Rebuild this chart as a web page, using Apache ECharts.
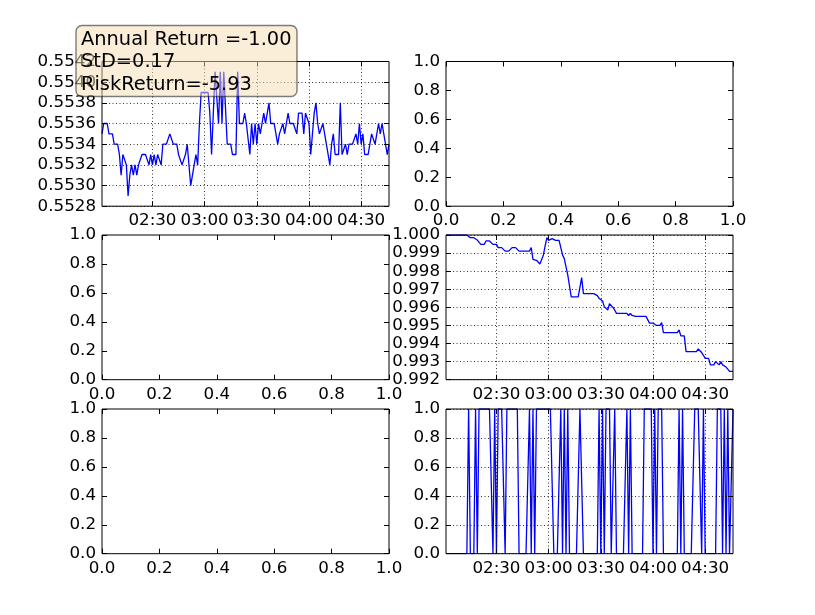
<!DOCTYPE html>
<html>
<head>
<meta charset="utf-8">
<script src="https://cdn.jsdelivr.net/npm/echarts@6.0.0/dist/echarts.min.js"></script>
<style>
  html, body { margin: 0; padding: 0; background: #fff; }
  #main { width: 815px; height: 615px; }
</style>
</head>
<body>
<div id="main"></div>
<script>
// minute-by-minute data, first point at 02:01
const startMinute = 2 * 60 + 1;
const timeTicks = ['02:30', '03:00', '03:30', '04:00', '04:30'];
const statLines = ['Annual Return =-1.00', 'StD=0.17', 'RiskReturn=-5.93'];

const price = [
  0.5535, 0.5536, 0.5536, 0.5536, 0.5535, 0.5535, 0.5535, 0.5534, 0.5534, 0.5534,
  0.5533, 0.5531, 0.5533, 0.5533, 0.5532, 0.5529, 0.5531, 0.5532, 0.5531, 0.5532,
  0.5531, 0.5532, 0.5532, 0.5533, 0.5533, 0.5533, 0.5533, 0.5532, 0.5533, 0.5532,
  0.5533, 0.5532, 0.5533, 0.5533, 0.5532, 0.5534, 0.5534, 0.5534, 0.5534, 0.5535,
  0.5535, 0.5534, 0.5534, 0.5534, 0.5533, 0.5533, 0.5532, 0.5532, 0.5533, 0.5534,
  0.5534, 0.5530, 0.5530, 0.5532, 0.5533, 0.5532, 0.5536, 0.5539, 0.5539, 0.5539,
  0.5539, 0.5539, 0.5537, 0.5533, 0.5533, 0.5541, 0.5541, 0.5536, 0.5541, 0.5536,
  0.5541, 0.5541, 0.5534, 0.5534, 0.5534, 0.5533, 0.5533, 0.5533, 0.5541, 0.5536,
  0.5536, 0.5536, 0.5537, 0.5536, 0.5536, 0.5533, 0.5536, 0.5534, 0.5536, 0.5534,
  0.5536, 0.5535, 0.5536, 0.5537, 0.5536, 0.5537, 0.5538, 0.5536, 0.5536, 0.5536,
  0.5535, 0.5534, 0.5535, 0.5535, 0.5536, 0.5535, 0.5536, 0.5537, 0.5536, 0.5536,
  0.5536, 0.5536, 0.5535, 0.5537, 0.5537, 0.5537, 0.5535, 0.5537, 0.5537, 0.5536,
  0.5533, 0.5535, 0.5537, 0.5538, 0.5536, 0.5535, 0.5535, 0.5536, 0.5535, 0.5534,
  0.5534, 0.5532, 0.5534, 0.5535, 0.5533, 0.5533, 0.5533, 0.5538, 0.5533, 0.5533,
  0.5534, 0.5533, 0.5534, 0.5534, 0.5534, 0.5534, 0.5535, 0.5534, 0.5536, 0.5534,
  0.5535, 0.5533, 0.5533, 0.5533, 0.5534, 0.5535, 0.5535, 0.5534, 0.5535, 0.5536,
  0.5535, 0.5536, 0.5535, 0.5534, 0.5533, 0.5534
];

const equity = [
  1, 1, 1, 1, 1, 1, 1, 1, 1, 1,
  1, 1, 1, 1, 0.99985, 0.99985, 0.99985, 0.99985, 0.99972, 0.99972,
  0.99948, 0.99948, 0.99948, 0.99967, 0.99967, 0.99967, 0.99967, 0.99948, 0.99948, 0.99948,
  0.9993, 0.9993, 0.9993, 0.9993, 0.99911, 0.99911, 0.99911, 0.99911, 0.9993, 0.9993,
  0.9993, 0.9993, 0.99911, 0.99911, 0.99911, 0.99911, 0.99911, 0.99911, 0.99911, 0.9993,
  0.99865, 0.9986, 0.9986, 0.9986, 0.9984, 0.9984, 0.9989, 0.9994, 0.99985, 0.9997,
  0.9998, 0.9998, 0.9997, 0.9997, 0.9997, 0.9997, 0.9997, 0.9989, 0.9987, 0.9987,
  0.9978, 0.9978, 0.99658, 0.99658, 0.99658, 0.99658, 0.99658, 0.99658, 0.99764, 0.99676,
  0.99676, 0.99676, 0.99676, 0.99676, 0.99676, 0.99676, 0.99676, 0.99665, 0.9965, 0.99645,
  0.99635, 0.99604, 0.996, 0.99585, 0.9962, 0.9962, 0.996, 0.99585, 0.99567, 0.99567,
  0.99567, 0.99567, 0.99567, 0.99567, 0.99567, 0.99555, 0.99567, 0.99555, 0.9955, 0.9955,
  0.9955, 0.9955, 0.9955, 0.9955, 0.9955, 0.9955, 0.9955, 0.99513, 0.99513, 0.99513,
  0.99513, 0.995, 0.995, 0.995, 0.99515, 0.9946, 0.9946, 0.9946, 0.9946, 0.9946,
  0.9946, 0.9946, 0.9946, 0.9946, 0.99475, 0.99442, 0.99442, 0.99442, 0.99355, 0.99355,
  0.99355, 0.99355, 0.99355, 0.99355, 0.99355, 0.9937, 0.99362, 0.9935, 0.99335, 0.99318,
  0.99318, 0.99318, 0.99282, 0.99282, 0.99282, 0.993, 0.99295, 0.99282, 0.993, 0.99282,
  0.99282, 0.9927, 0.99258, 0.99246, 0.99246, 0.99246
];

const position = [
  0, 0, 0, 0, 0, 0, 0, 0, 0, 0,
  0, 0, 0, 1, 0, 0, 0, 1, 0, 1,
  1, 1, 1, 1, 1, 1, 1, 0, 1, 0,
  1, 1, 1, 1, 0, 1, 1, 1, 1, 1,
  1, 1, 0, 0, 0, 0, 0, 0, 1, 0,
  1, 0, 1, 1, 1, 1, 1, 1, 1, 1,
  1, 1, 0, 0, 0, 0, 1, 0, 1, 0,
  1, 0, 0, 0, 0, 0, 0, 1, 1, 0,
  0, 0, 0, 0, 0, 0, 0, 0, 1, 0,
  1, 0, 1, 1, 1, 0, 0, 1, 0, 0,
  0, 0, 0, 0, 1, 0, 1, 0, 0, 0,
  0, 0, 0, 0, 1, 1, 1, 1, 1, 0,
  1, 0, 1, 1, 1, 0, 0, 0, 0, 0,
  0, 0, 0, 0, 1, 0, 1, 0, 0, 0,
  0, 0, 0, 1, 1, 1, 1, 0, 1, 0,
  0, 0, 0, 0, 0, 0, 1, 1, 1, 0,
  1, 0, 1, 0, 0, 1
];

const FONT = 'DejaVu Sans';
const toMin = s => +s.slice(0, 2) * 60 + +s.slice(3);
const tickMinutes = timeTicks.map(toMin);
const fmtTime = v => String(Math.floor(v / 60)).padStart(2, '0') + ':' + String(v % 60).padStart(2, '0');
const pairs = arr => arr.map((v, i) => [startMinute + i, v]);

// subplot boxes: 3 rows x 2 cols
const colLeft = [102, 446];
const rowTop = [61.5, 235, 409];
const boxW = 287, boxH = 144.7;

const grids = [], xAxes = [], yAxes = [], series = [];
const gridLine = { show: true, lineStyle: { color: '#000', type: [1, 2.5], width: 0.8 } };
const labelStyle = { color: '#000', fontFamily: FONT, fontSize: 16.7 };
const tickStyle = { inside: true, length: 5, lineStyle: { color: '#000' } };

// each subplot gets bottom/top x axes and left/right y axes (ticks on all four sides)
function addAxes(gi, xSpec, ySpec, withGrid) {
  [0, 1].forEach(side => {
    let ax;
    if (xSpec === 'time') {
      ax = {
        type: 'value', min: startMinute, max: startMinute + price.length - 1,
        axisTick: Object.assign({ customValues: tickMinutes }, tickStyle),
        axisLabel: Object.assign({ show: side === 0, margin: 6, customValues: tickMinutes, formatter: fmtTime }, labelStyle)
      };
    } else {
      ax = {
        type: 'value', min: xSpec.min, max: xSpec.max, interval: xSpec.interval,
        axisTick: tickStyle,
        axisLabel: Object.assign({ show: side === 0, margin: 6, showMinLabel: true, showMaxLabel: true,
          formatter: v => v.toFixed(xSpec.dec) }, labelStyle)
      };
    }
    ax.gridIndex = gi;
    ax.position = side === 0 ? 'bottom' : 'top';
    ax.axisLine = { show: false, onZero: false };
    ax.splitLine = withGrid && side === 0 ? gridLine : { show: false };
    xAxes.push(ax);

    yAxes.push({
      type: 'value', gridIndex: gi, position: side === 0 ? 'left' : 'right',
      min: ySpec.min, max: ySpec.max, interval: ySpec.interval,
      axisLine: { show: false, onZero: false },
      axisTick: tickStyle,
      axisLabel: Object.assign({ show: side === 0, margin: 6, showMinLabel: true, showMaxLabel: true,
        formatter: v => v.toFixed(ySpec.dec) }, labelStyle),
      splitLine: withGrid && side === 0 ? gridLine : { show: false }
    });
  });
}

const unit = { min: 0, max: 1, interval: 0.2, dec: 1 };
const panels = [
  { x: 'time', y: { min: 0.5528, max: 0.5542, interval: 0.0002, dec: 4 }, data: price },
  { x: unit, y: unit },
  { x: unit, y: unit },
  { x: 'time', y: { min: 0.992, max: 1.0, interval: 0.001, dec: 3 }, data: equity },
  { x: unit, y: unit },
  { x: 'time', y: unit, data: position }
];

panels.forEach((p, i) => {
  grids.push({
    left: colLeft[i % 2], top: rowTop[Math.floor(i / 2)], width: boxW, height: boxH,
    show: true, borderColor: '#000', borderWidth: 1, backgroundColor: 'transparent',
    containLabel: false, outerBoundsMode: 'none'
  });
  addAxes(i, p.x, p.y, !!p.data);
  if (p.data) {
    // drawn under the frame, like the spines in the original
    series.push({
      type: 'line', xAxisIndex: i * 2, yAxisIndex: i * 2, z: -1,
      data: pairs(p.data), showSymbol: false, symbol: 'none',
      lineStyle: { color: '#0000ff', width: 1.3 }, clip: true
    });
  }
});

const chart = echarts.init(document.getElementById('main'));
chart.setOption({
  animation: false,
  backgroundColor: '#fff',
  grid: grids,
  xAxis: xAxes,
  yAxis: yAxes,
  series: series,
  graphic: [
    {
      type: 'rect', z: 100,
      shape: { x: 76, y: 25.5, width: 221, height: 71, r: 6 },
      style: { fill: 'rgba(245,222,179,0.5)', stroke: 'rgba(0,0,0,0.5)', lineWidth: 1.4 }
    }
  ].concat(statLines.map((t, k) => ({
    type: 'text', z: 101, x: 81, y: 39.5 + k * 22.6,
    style: { text: t, fontFamily: FONT, fontSize: 19.4, fill: '#000', verticalAlign: 'middle' }
  })))
});
</script>
</body>
</html>
